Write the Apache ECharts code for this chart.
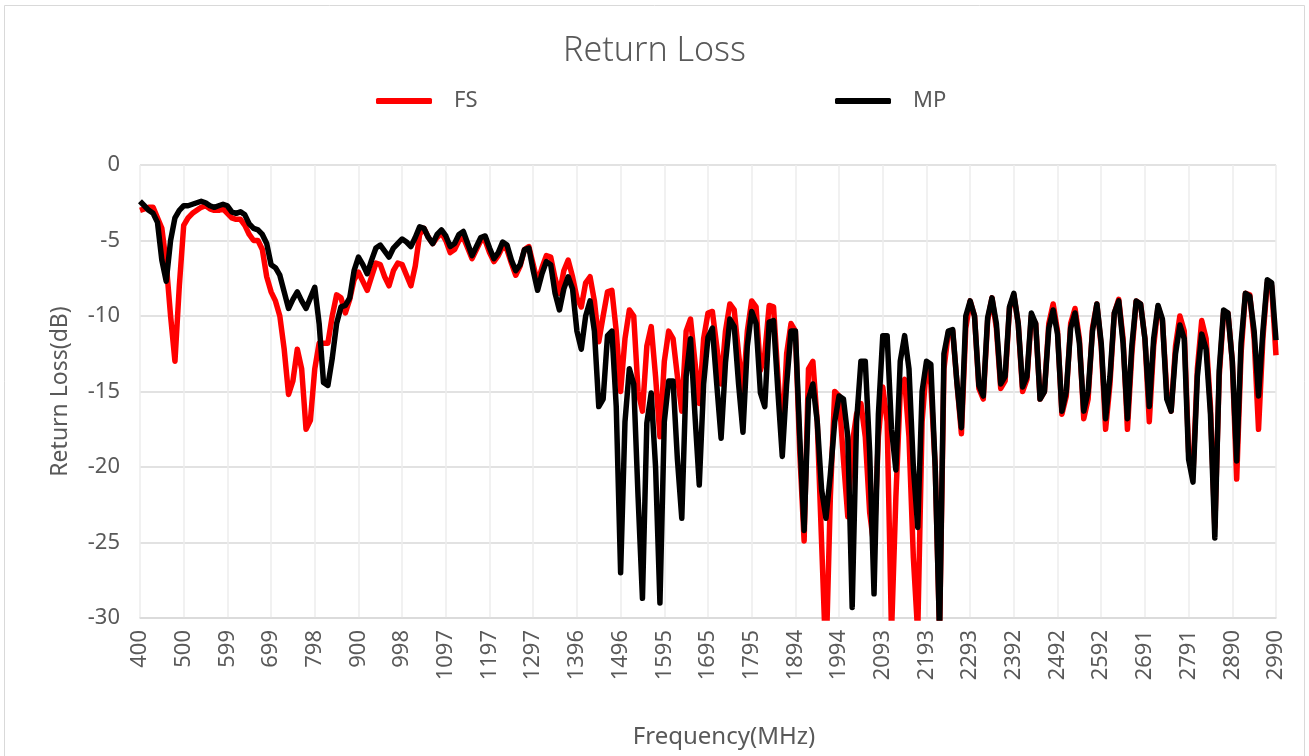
<!DOCTYPE html>
<html>
<head>
<meta charset="utf-8">
<script src="https://cdn.jsdelivr.net/npm/echarts@6/dist/echarts.min.js"></script>
<style>
  html, body { margin: 0; padding: 0; background: #fff; }
  #chart { width: 1309px; height: 756px; }
</style>
</head>
<body>
<div id="chart"></div>
<script>
// tick labels shown on the frequency axis (every 10th sample)
const freqLabels = [400, 500, 599, 699, 798, 900, 998, 1097, 1197, 1297, 1396, 1496, 1595, 1695,
  1795, 1894, 1994, 2093, 2193, 2293, 2392, 2492, 2592, 2691, 2791, 2890, 2990];

// return loss in dB, one value per sample
const fsData = [
  -3.0, -2.9, -2.8, -2.8, -3.5, -4.2, -6.5, -10.0, -13.0, -8.0,
  -4.0, -3.5, -3.2, -3.0, -2.8, -2.7, -2.9, -3.0, -3.0, -2.9,
  -3.2, -3.5, -3.6, -3.6, -4.0, -4.6, -5.0, -5.0, -5.6, -7.4,
  -8.4, -9.0, -10.0, -12.2, -15.2, -14.3, -12.2, -13.5, -17.5, -16.9,
  -13.5, -11.8, -11.8, -11.8, -10.0, -8.6, -8.8, -9.8, -8.9, -7.6,
  -7.1, -7.7, -8.3, -7.4, -6.5, -6.6, -7.4, -8.0, -7.0, -6.5,
  -6.6, -7.3, -8.0, -6.7, -4.6, -4.2, -4.8, -5.2, -4.8, -4.5,
  -5.0, -5.8, -5.6, -5.0, -4.8, -5.5, -6.2, -5.6, -5.0, -5.0,
  -5.8, -6.4, -6.0, -5.4, -5.6, -6.5, -7.3, -6.7, -5.6, -5.4,
  -6.6, -7.8, -6.8, -6.0, -6.1, -7.5, -8.5, -7.0, -6.3, -7.4,
  -8.8, -9.4, -7.8, -7.4, -9.0, -11.7, -10.0, -8.4, -8.3, -11.0,
  -15.0, -11.5, -9.6, -10.0, -15.0, -16.3, -12.0, -10.7, -14.0, -18.0,
  -13.0, -11.0, -11.5, -14.0, -16.3, -11.0, -10.2, -13.0, -15.8, -11.5,
  -9.8, -9.7, -12.0, -14.5, -11.0, -9.2, -9.6, -12.5, -15.1, -11.0,
  -9.0, -9.4, -13.6, -12.5, -9.3, -9.4, -14.0, -18.3, -12.5, -10.5,
  -11.0, -19.0, -24.9, -13.5, -13.0, -17.0, -25.0, -33.0, -22.0, -15.0,
  -15.3, -19.5, -23.3, -18.5, -16.5, -15.8, -18.0, -23.0, -25.3, -18.0,
  -14.7, -17.0, -31.0, -22.0, -15.0, -14.2, -18.0, -26.0, -31.0, -17.0,
  -13.3, -14.5, -20.0, -31.0, -13.5, -11.1, -11.0, -14.5, -17.8, -10.8,
  -9.0, -10.0, -14.8, -15.5, -10.3, -8.8, -10.8, -14.8, -14.3, -9.5,
  -8.6, -10.5, -15.0, -14.2, -10.0, -10.5, -15.5, -15.0, -10.5, -9.2,
  -11.0, -16.5, -15.3, -10.5, -9.5, -11.5, -16.8, -15.5, -10.8, -9.2,
  -12.0, -17.5, -14.5, -9.8, -8.9, -11.5, -17.5, -12.5, -9.0, -9.2,
  -11.5, -17.0, -12.0, -9.4, -10.3, -15.0, -16.3, -12.0, -10.0, -11.0,
  -19.0, -20.5, -13.5, -10.3, -11.5, -16.0, -24.0, -14.0, -9.8, -9.8,
  -13.0, -20.8, -12.5, -8.5, -8.6, -11.5, -17.5, -11.5, -7.8, -8.0,
  -12.6
];

const mpData = [
  -2.4, -2.7, -3.0, -3.2, -3.8, -6.3, -7.7, -5.0, -3.5, -3.0,
  -2.7, -2.7, -2.6, -2.5, -2.4, -2.5, -2.7, -2.8, -2.7, -2.6,
  -2.7, -3.1, -3.2, -3.1, -3.3, -3.9, -4.2, -4.3, -4.6, -5.2,
  -6.6, -6.8, -7.3, -8.4, -9.5, -8.9, -8.4, -9.0, -9.5, -8.8,
  -8.1, -10.5, -14.4, -14.6, -12.8, -10.5, -9.4, -9.3, -8.8, -7.0,
  -6.1, -6.6, -7.2, -6.3, -5.5, -5.3, -5.7, -6.1, -5.5, -5.2,
  -4.9, -5.1, -5.4, -4.8, -4.1, -4.2, -4.8, -5.2, -4.6, -4.3,
  -4.7, -5.4, -5.2, -4.6, -4.4, -5.2, -6.0, -5.4, -4.8, -4.7,
  -5.5, -6.2, -5.8, -5.1, -5.3, -6.3, -7.0, -6.6, -5.6, -5.5,
  -7.0, -8.3, -7.2, -6.4, -6.6, -8.5, -9.6, -8.2, -7.4, -8.2,
  -11.0, -12.2, -10.0, -9.0, -11.0, -16.0, -15.5, -11.3, -11.0, -16.0,
  -27.0, -17.0, -13.5, -14.5, -22.0, -28.7, -17.1, -15.1, -20.0, -29.0,
  -17.0, -14.3, -14.3, -19.5, -23.4, -14.0, -11.5, -16.5, -21.2, -14.5,
  -11.4, -10.8, -14.5, -18.1, -13.1, -10.2, -10.7, -14.5, -17.7, -12.0,
  -9.7, -10.5, -15.1, -16.0, -10.4, -10.3, -15.0, -19.3, -14.5, -11.0,
  -11.0, -18.0, -24.2, -15.5, -14.5, -17.0, -21.5, -23.4, -20.5, -17.0,
  -15.3, -15.5, -18.0, -29.3, -17.0, -13.0, -13.0, -19.0, -28.4, -16.5,
  -11.3, -11.3, -17.5, -20.2, -13.0, -11.3, -13.5, -20.0, -24.0, -15.0,
  -13.0, -13.2, -20.0, -31.0, -12.5, -11.0, -10.9, -14.5, -17.4, -10.0,
  -9.0, -10.0, -14.6, -15.3, -10.1, -8.8, -10.5, -14.5, -14.0, -9.4,
  -8.5, -10.5, -14.7, -14.0, -9.8, -10.5, -15.5, -15.0, -10.8, -9.6,
  -11.2, -16.3, -15.0, -10.8, -9.8, -11.8, -16.3, -15.0, -11.0, -9.2,
  -11.8, -16.8, -14.0, -9.8, -9.0, -11.8, -16.8, -12.0, -9.0, -9.2,
  -11.5, -16.0, -11.5, -9.3, -10.2, -15.5, -16.3, -12.5, -10.6, -11.5,
  -19.5, -21.0, -14.0, -11.2, -12.2, -16.5, -24.7, -13.6, -9.6, -9.8,
  -13.0, -19.6, -11.8, -8.5, -8.7, -11.0, -15.3, -11.0, -7.6, -7.8,
  -11.6
];

// category for each sample; the every-10th ones carry the printed tick labels
const step = (2990 - 400) / (fsData.length - 1);
const categories = [];
for (let i = 0; i < fsData.length; i++) {
  categories.push(i % 10 === 0 ? String(freqLabels[i / 10]) : String(Math.round(400 + i * step)));
}

const font = 'Noto Sans';
const grey = '#595959';

let chart = echarts.init(document.getElementById('chart'));
let option = {
  animation: false,
  backgroundColor: '#fff',
  textStyle: { fontFamily: font },
  graphic: [{
    type: 'rect',
    shape: { x: 4.5, y: 5.5, width: 1300, height: 800 },
    style: { fill: 'none', stroke: '#d9d9d9', lineWidth: 1 },
    silent: true
  }],
  title: {
    text: 'Return Loss',
    left: 'center',
    top: 29,
    textStyle: { fontFamily: font, fontSize: 34, fontWeight: 300, color: grey }
  },
  legend: [
    {
      data: ['FS'],
      left: 371,
      top: 85,
      icon: 'roundRect',
      itemWidth: 56,
      itemHeight: 6,
      textStyle: { fontFamily: font, fontSize: 22, color: grey, padding: [0, 0, 0, 17] }
    },
    {
      data: ['MP'],
      left: 830,
      top: 85,
      icon: 'roundRect',
      itemWidth: 56,
      itemHeight: 6,
      textStyle: { fontFamily: font, fontSize: 22, color: grey, padding: [0, 0, 0, 17] }
    }
  ],
  grid: { left: 140, right: 33, top: 165, bottom: 138, outerBoundsMode: 'none' },
  xAxis: {
    type: 'category',
    data: categories,
    boundaryGap: false,
    name: 'Frequency(MHz)',
    nameLocation: 'middle',
    nameGap: 107,
    nameTextStyle: { fontFamily: font, fontSize: 24, color: grey, padding: [0, 0, 0, 32] },
    axisLine: { onZero: false, lineStyle: { color: '#d9d9d9', width: 1.5 } },
    axisTick: { show: false },
    axisLabel: { interval: 9, rotate: 90, fontSize: 22, color: grey, margin: 12 },
    splitLine: { show: true, interval: 9, lineStyle: { color: '#ededed', width: 1.5 } }
  },
  yAxis: {
    type: 'value',
    min: -30,
    max: 0,
    interval: 5,
    name: 'Return Loss(dB)',
    nameLocation: 'middle',
    nameGap: 68,
    nameRotate: 90,
    nameTextStyle: { fontFamily: font, fontSize: 23, color: grey },
    axisLine: { show: false },
    axisTick: { show: false },
    axisLabel: { fontSize: 22, color: grey, margin: 20 },
    splitLine: { lineStyle: { color: '#d9d9d9', width: 1.5 } }
  },
  series: [
    {
      name: 'FS',
      type: 'line',
      data: fsData,
      symbol: 'none',
      color: '#ff0000',
      lineStyle: { width: 5.5, color: '#ff0000', join: 'round' }
    },
    {
      name: 'MP',
      type: 'line',
      data: mpData,
      symbol: 'none',
      color: '#000000',
      lineStyle: { width: 5.5, color: '#000000', join: 'round' }
    }
  ]
};
chart.setOption(option);
</script>
</body>
</html>
